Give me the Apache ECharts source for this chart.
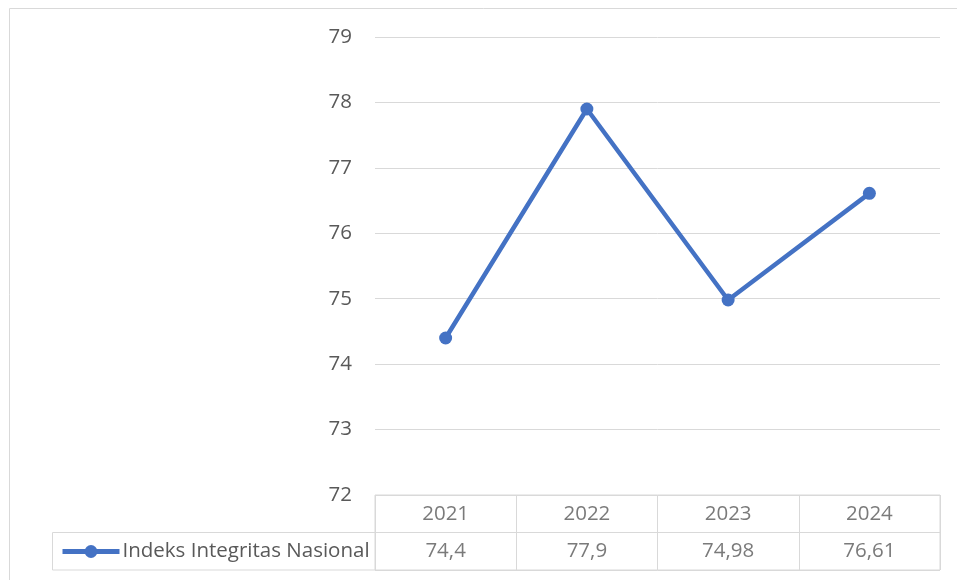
<!DOCTYPE html>
<html><head><meta charset="utf-8">
<script src="https://cdn.jsdelivr.net/npm/echarts@6/dist/echarts.min.js"></script>
<style>html,body{margin:0;padding:0;background:#fff}#c{width:957px;height:580px}</style>
</head><body><div id="c"></div>
<script>
const years = ['2021','2022','2023','2024'];
const values = [74.4, 77.9, 74.98, 76.61];
const seriesName = 'Indeks Integritas Nasional';
const yMin = 72, yMax = 79, yStep = 1;

const FONT = 'Open Sans';
const FS = 20.5;
const TXT = '#595959';
const GRID = '#d9d9d9';
const BLUE = '#4472C4';
const fmt = v => String(v).replace('.', ',');

const tableData = [];
years.forEach((y, i) => {
  tableData.push({value: [y, 'years'], label: {formatter: y}});
  tableData.push({value: [y, 'values'], label: {formatter: fmt(values[i])}});
});

const chart = echarts.init(document.getElementById('c'));
chart.setOption({
  animation: false,
  textStyle: {fontFamily: FONT},
  grid: [
    {left: 375, right: 17, top: 37, bottom: 85},
    {left: 375, right: 17, top: 495, bottom: 10, show: true, borderColor: GRID, borderWidth: 1}
  ],
  xAxis: [
    {gridIndex: 0, type: 'category', data: years, boundaryGap: true,
     axisLine: {show: false}, axisTick: {show: false}, axisLabel: {show: false}},
    {gridIndex: 1, type: 'category', data: years, boundaryGap: true,
     axisLine: {show: false}, axisTick: {show: false}, axisLabel: {show: false},
     splitLine: {show: true, interval: 0, lineStyle: {color: GRID, width: 1}}}
  ],
  yAxis: [
    {gridIndex: 0, type: 'value', min: yMin, max: yMax, interval: yStep,
     axisLine: {show: false}, axisTick: {show: false},
     axisLabel: {color: TXT, fontSize: FS, fontFamily: FONT, margin: 23},
     splitLine: {lineStyle: {color: GRID, width: 1}}},
    {gridIndex: 1, type: 'category', data: ['years', 'values'], inverse: true,
     axisLine: {show: false}, axisTick: {show: false}, axisLabel: {show: false},
     splitLine: {show: true, interval: 0, lineStyle: {color: GRID, width: 1}}}
  ],
  legend: {
    show: true, left: 60, top: 541, itemWidth: 57, itemHeight: 16, itemGap: 0,
    padding: 0,
    lineStyle: {width: 5, color: BLUE},
    itemStyle: {color: BLUE},
    textStyle: {color: TXT, fontSize: FS, fontFamily: FONT, padding: [0, 0, 0, -2]},
    data: [seriesName]
  },
  graphic: [
    {type: 'rect', silent: true, shape: {x: 9.5, y: 8.5, width: 1000, height: 1000},
     style: {fill: 'none', stroke: GRID, lineWidth: 1}},
    {type: 'rect', silent: true, shape: {x: 52.5, y: 532.5, width: 323, height: 37.5},
     style: {fill: 'none', stroke: GRID, lineWidth: 1}}
  ],
  series: [
    {name: seriesName, type: 'line', xAxisIndex: 0, yAxisIndex: 0, data: values,
     symbol: 'circle', symbolSize: 13,
     lineStyle: {color: BLUE, width: 4.5},
     itemStyle: {color: BLUE}},
    {type: 'scatter', xAxisIndex: 1, yAxisIndex: 1, data: tableData,
     symbolSize: 0, silent: true,
     label: {show: true, position: 'inside', color: TXT, fontSize: FS, fontFamily: FONT}}
  ]
});
</script></body></html>
